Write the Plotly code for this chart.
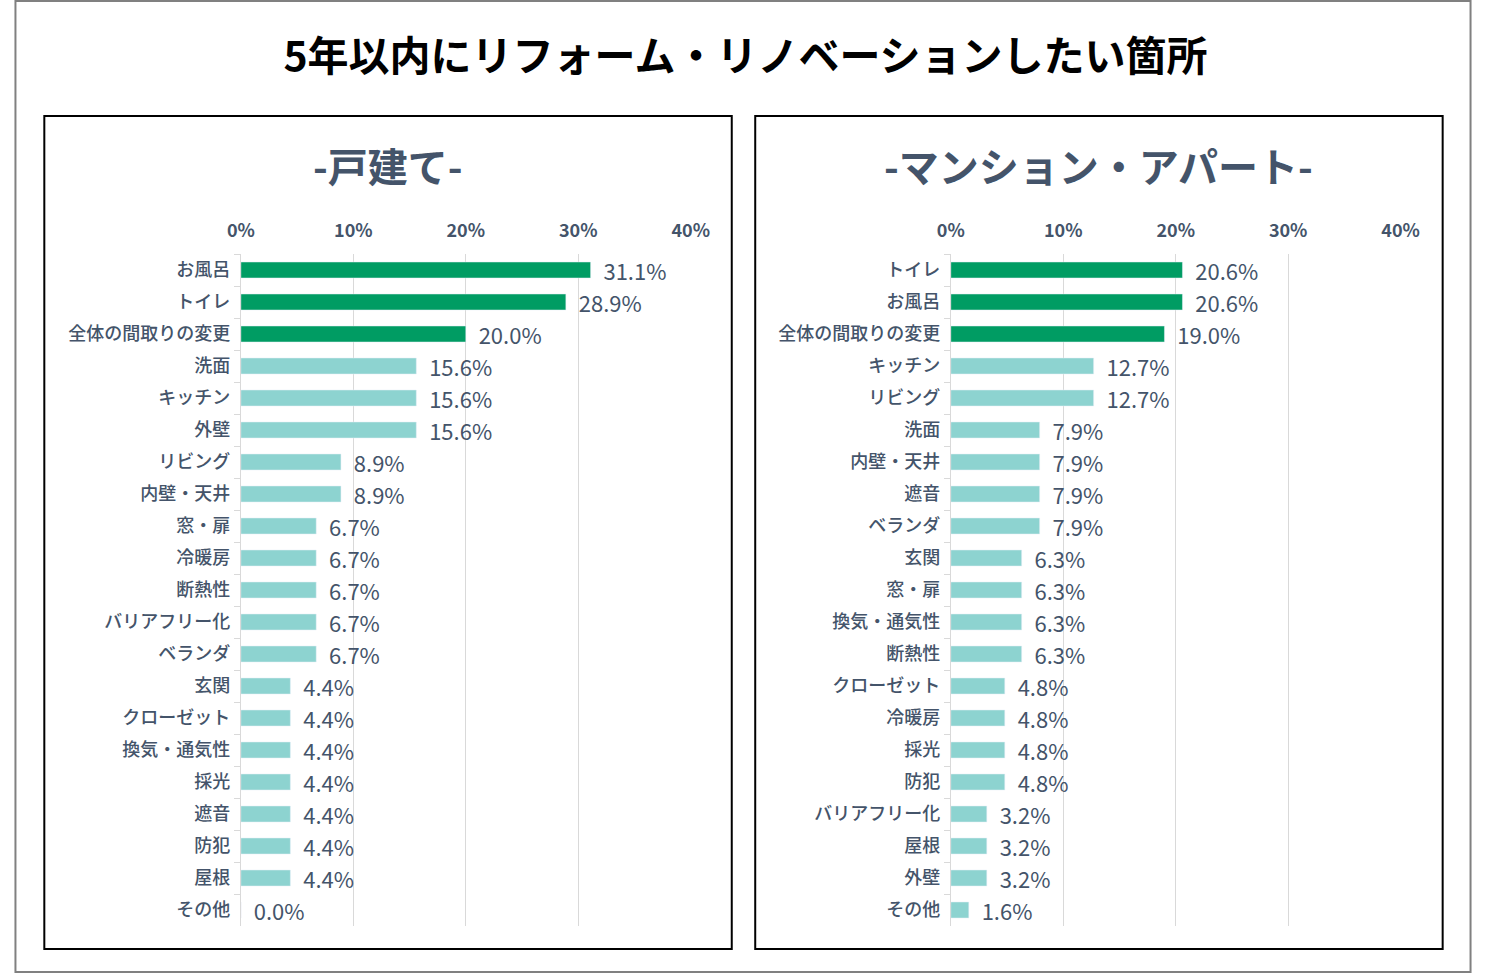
import plotly.graph_objects as go

# -戸建て- (detached houses)
house_labels = ["お風呂", "トイレ", "全体の間取りの変更", "洗面", "キッチン", "外壁", "リビング",
                "内壁・天井", "窓・扉", "冷暖房", "断熱性", "バリアフリー化", "ベランダ", "玄関",
                "クローゼット", "換気・通気性", "採光", "遮音", "防犯", "屋根", "その他"]
house_values = [0.311, 0.289, 0.200, 0.156, 0.156, 0.156, 0.089, 0.089, 0.067, 0.067, 0.067,
                0.067, 0.067, 0.044, 0.044, 0.044, 0.044, 0.044, 0.044, 0.044, 0.000]

# -マンション・アパート- (apartments)
apt_labels = ["トイレ", "お風呂", "全体の間取りの変更", "キッチン", "リビング", "洗面", "内壁・天井",
              "遮音", "ベランダ", "玄関", "窓・扉", "換気・通気性", "断熱性", "クローゼット",
              "冷暖房", "採光", "防犯", "バリアフリー化", "屋根", "外壁", "その他"]
apt_values = [0.206, 0.206, 0.190, 0.127, 0.127, 0.079, 0.079, 0.079, 0.079, 0.063, 0.063,
              0.063, 0.063, 0.048, 0.048, 0.048, 0.048, 0.032, 0.032, 0.032, 0.016]

x_ticks = [0, 0.1, 0.2, 0.3, 0.4]

GREEN = "#009C63"
TEAL = "#8DD3D0"
SLATE = "#44546A"
FONT = "Noto Sans CJK JP"
W, H = 1491, 973  # reference size, used to place things in paper coords


def bar_colors(n, top=3):
    return [GREEN if i < top else TEAL for i in range(n)]


def make_bars(values, labels, xa, ya):
    return go.Bar(x=values, y=labels, orientation="h", width=0.5,
                  marker=dict(color=bar_colors(len(values))),
                  texttemplate="\u00a0\u00a0%{x:.1%}", textposition="outside",
                  constraintext="none",
                  textfont=dict(family=FONT, size=22, color=SLATE),
                  cliponaxis=False, xaxis=xa, yaxis=ya, hoverinfo="x+y")


fig = go.Figure()
fig.add_trace(make_bars(house_values, house_labels, "x", "y"))
fig.add_trace(make_bars(apt_values, apt_labels, "x2", "y2"))

y_dom = [1 - 926 / H, 1 - 254 / H]
xaxis_style = dict(range=[0, 0.4], side="top", tickvals=x_ticks, tickformat=".0%",
                   showgrid=True, gridcolor="#D9D9D9", gridwidth=1, zeroline=False,
                   showline=False, ticks="", ticklabelstandoff=12,
                   tickfont=dict(family=FONT, size=18, color=SLATE, weight="bold"))
yaxis_style = dict(autorange="reversed", showgrid=False, showline=True, linecolor="#D9D9D9",
                   ticks="outside", tickson="boundaries", ticklen=6, tickcolor="#D9D9D9",
                   ticklabelstandoff=6, domain=y_dom,
                   tickfont=dict(family=FONT, size=18, color=SLATE, weight=500))

fig.update_layout(
    autosize=True,
    margin=dict(l=0, r=0, t=0, b=0),
    paper_bgcolor="white", plot_bgcolor="white",
    showlegend=False,
    xaxis=dict(domain=[232 / W, 692 / W], anchor="y", **xaxis_style),
    yaxis=dict(anchor="x", **yaxis_style),
    xaxis2=dict(domain=[958 / W, 1418 / W], anchor="y2", **xaxis_style),
    yaxis2=dict(anchor="x2", **yaxis_style),
    title=dict(text="<b>5年以内にリフォーム・リノベーションしたい箇所</b>",
               x=0.5, xanchor="center", y=1 - 57 / H, yanchor="middle",
               font=dict(family=FONT, size=41, color="black")),
)

# panel titles
for cx, txt in [((31 + 734) / 2, "-戸建て-"), ((758 + 1461) / 2, "-マンション・アパート-")]:
    fig.add_annotation(text=f"<b>{txt}</b>", x=cx / W, y=1 - 165 / H, xref="paper", yref="paper",
                       xanchor="center", yanchor="middle", showarrow=False,
                       font=dict(family=FONT, size=40, color=SLATE))

# outer and panel borders
fig.add_shape(type="rect", xref="paper", yref="paper", x0=0.001, x1=0.999, y0=0.001, y1=0.999,
              line=dict(color="#808080", width=2))
for x0, x1 in [(31, 734), (758, 1461)]:
    fig.add_shape(type="rect", xref="paper", yref="paper", x0=x0 / W, x1=x1 / W,
                  y0=1 - 949 / H, y1=1 - 116 / H, line=dict(color="black", width=2))

# fill the window exactly: no page margin, then resize once
fig.write_html("out.html",
               default_width="100vw", default_height="100vh",
               config=dict(displayModeBar=False),
               post_script="document.body.style.margin='0';"
                           "document.body.style.overflow='hidden';"
                           "Plotly.Plots.resize(document.getElementById('{plot_id}'));")
